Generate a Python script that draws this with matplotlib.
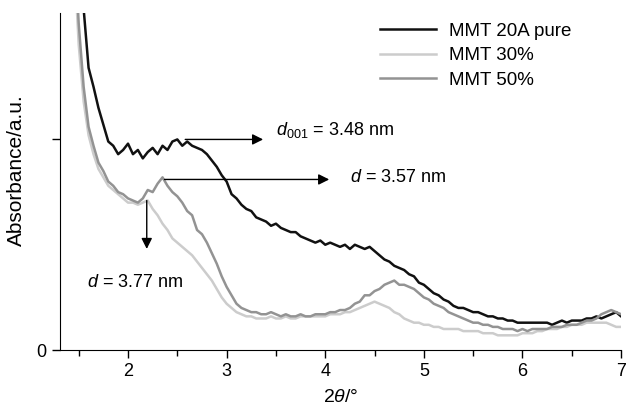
import numpy as np
import matplotlib
matplotlib.use('Agg')
import matplotlib.pyplot as plt
from matplotlib.ticker import MultipleLocator

plt.rcParams['font.family'] = ['Liberation Sans', 'DejaVu Sans']
plt.rcParams['mathtext.fontset'] = 'custom'
plt.rcParams['mathtext.rm'] = 'Liberation Sans'
plt.rcParams['mathtext.it'] = 'Liberation Sans:italic'

# 2theta grid, 1.45 .. 7.00 in steps of 0.05
two_theta = np.round(1.45 + 0.05 * np.arange(112), 2)

pure_20a = [
    2.30, 1.95, 1.62, 1.34, 1.25, 1.15, 1.07, 0.99, 0.97, 0.93,
    0.95, 0.98, 0.93, 0.95, 0.91, 0.94, 0.96, 0.93, 0.97, 0.95,
    0.99, 1.00, 0.97, 0.99, 0.97, 0.96, 0.95, 0.93, 0.90, 0.87,
    0.83, 0.80, 0.74, 0.72, 0.69, 0.67, 0.66, 0.63, 0.62, 0.61,
    0.59, 0.60, 0.58, 0.57, 0.56, 0.56, 0.54, 0.53, 0.52, 0.51,
    0.52, 0.50, 0.51, 0.50, 0.49, 0.50, 0.48, 0.50, 0.49, 0.48,
    0.49, 0.47, 0.45, 0.43, 0.42, 0.40, 0.39, 0.38, 0.36, 0.35,
    0.32, 0.31, 0.29, 0.27, 0.26, 0.24, 0.23, 0.21, 0.20, 0.20,
    0.19, 0.18, 0.18, 0.17, 0.16, 0.16, 0.15, 0.15, 0.14, 0.14,
    0.13, 0.13, 0.13, 0.13, 0.13, 0.13, 0.13, 0.12, 0.13, 0.14,
    0.13, 0.14, 0.14, 0.14, 0.15, 0.15, 0.16, 0.15, 0.16, 0.17,
    0.18, 0.16,
]

mmt_30 = [
    1.90, 1.45, 1.18, 1.02, 0.93, 0.86, 0.82, 0.78, 0.76, 0.74,
    0.72, 0.70, 0.70, 0.69, 0.70, 0.71, 0.67, 0.64, 0.60, 0.57,
    0.53, 0.51, 0.49, 0.47, 0.45, 0.42, 0.39, 0.36, 0.33, 0.29,
    0.25, 0.22, 0.20, 0.18, 0.17, 0.16, 0.16, 0.15, 0.15, 0.15,
    0.16, 0.15, 0.15, 0.16, 0.15, 0.15, 0.16, 0.16, 0.16, 0.16,
    0.16, 0.16, 0.17, 0.17, 0.17, 0.18, 0.18, 0.19, 0.20, 0.21,
    0.22, 0.23, 0.22, 0.21, 0.20, 0.18, 0.17, 0.15, 0.14, 0.13,
    0.13, 0.12, 0.12, 0.11, 0.11, 0.10, 0.10, 0.10, 0.10, 0.09,
    0.09, 0.09, 0.09, 0.08, 0.08, 0.08, 0.07, 0.07, 0.07, 0.07,
    0.07, 0.08, 0.08, 0.08, 0.09, 0.09, 0.10, 0.10, 0.10, 0.11,
    0.11, 0.12, 0.12, 0.12, 0.13, 0.13, 0.13, 0.13, 0.13, 0.12,
    0.11, 0.11,
]

mmt_50 = [
    2.00, 1.55, 1.25, 1.06, 0.97, 0.89, 0.85, 0.80, 0.78, 0.75,
    0.74, 0.72, 0.71, 0.70, 0.72, 0.76, 0.75, 0.79, 0.82, 0.78,
    0.75, 0.73, 0.70, 0.66, 0.64, 0.57, 0.55, 0.51, 0.46, 0.41,
    0.35, 0.30, 0.26, 0.22, 0.20, 0.19, 0.18, 0.18, 0.17, 0.17,
    0.18, 0.17, 0.16, 0.17, 0.16, 0.16, 0.17, 0.16, 0.16, 0.17,
    0.17, 0.17, 0.18, 0.18, 0.19, 0.19, 0.20, 0.22, 0.23, 0.26,
    0.26, 0.28, 0.29, 0.31, 0.32, 0.33, 0.31, 0.31, 0.30, 0.29,
    0.27, 0.25, 0.24, 0.22, 0.21, 0.20, 0.18, 0.17, 0.16, 0.15,
    0.14, 0.13, 0.13, 0.12, 0.12, 0.11, 0.11, 0.10, 0.10, 0.10,
    0.09, 0.10, 0.09, 0.10, 0.10, 0.10, 0.10, 0.11, 0.11, 0.11,
    0.12, 0.12, 0.12, 0.13, 0.14, 0.14, 0.15, 0.17, 0.18, 0.19,
    0.18, 0.17,
]

fig = plt.figure(figsize=(6.28, 4.08), dpi=100)
ax = fig.add_axes([0.0955, 0.142, 0.8935, 0.826])

ax.plot(two_theta, pure_20a, color='#111111', lw=1.8, label='MMT 20A pure')
ax.plot(two_theta, mmt_30, color='#cccccc', lw=1.8, label='MMT 30%')
ax.plot(two_theta, mmt_50, color='#939393', lw=1.8, label='MMT 50%')

ax.set_xlim(1.31, 7.0)
ax.set_ylim(0, 1.6)
ax.xaxis.set_major_locator(MultipleLocator(1))
ax.xaxis.set_minor_locator(MultipleLocator(0.5))
ax.set_yticks([0, 1])
ax.set_yticklabels(['0', ''])
ax.tick_params(which='major', direction='out', length=6, width=1, labelsize=13)
ax.tick_params(which='minor', direction='out', length=4, width=1)
for s in ['top', 'right']:
    ax.spines[s].set_visible(False)

ax.set_xlabel(r'2$\it{\theta}$/°', fontsize=14, labelpad=6)
ax.set_ylabel('Absorbance/a.u.', fontsize=15)
ax.yaxis.set_label_coords(-0.06, 0.535)

arrow = dict(arrowstyle='-|>', color='black', lw=1, mutation_scale=16,
             shrinkA=0, shrinkB=0)
ax.annotate('', xy=(3.37, 1.0), xytext=(2.58, 1.0), arrowprops=arrow)
ax.annotate('', xy=(4.04, 0.81), xytext=(2.37, 0.81), arrowprops=arrow)
ax.annotate('', xy=(2.19, 0.48), xytext=(2.19, 0.71), arrowprops=arrow)

ax.text(3.5, 1.045, r'$\it{d}_{001}$ = 3.48 nm', fontsize=13, va='center')
ax.text(4.25, 0.82, r'$\it{d}$ = 3.57 nm', fontsize=13, va='center')
ax.text(1.58, 0.32, r'$\it{d}$ = 3.77 nm', fontsize=13, va='center')

ax.legend(loc='upper left', bbox_to_anchor=(0.57, 0.972), frameon=False,
          fontsize=13.5, handlelength=3.0, labelspacing=0.4, handletextpad=0.7,
          borderpad=0, borderaxespad=0)

fig.savefig('out.png', dpi=100)
